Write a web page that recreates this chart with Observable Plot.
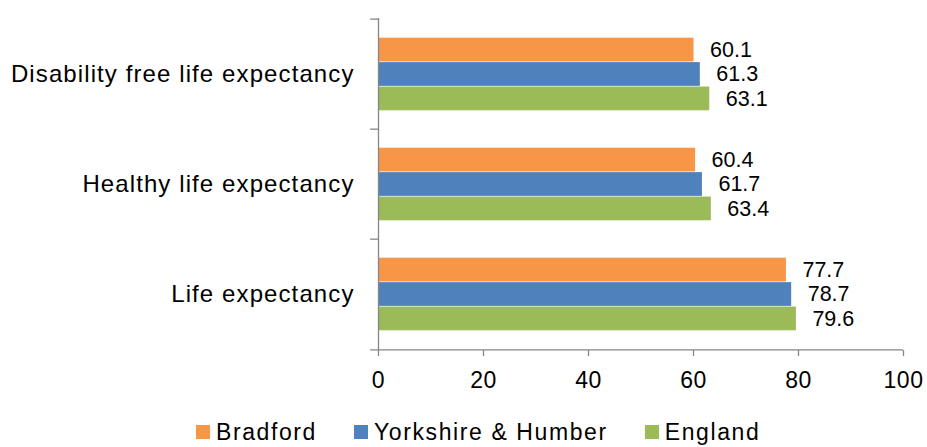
<!DOCTYPE html>
<html>
<head>
<meta charset="utf-8">
<script src="https://cdn.jsdelivr.net/npm/d3@7"></script>
<script src="https://cdn.jsdelivr.net/npm/@observablehq/plot@0.6"></script>
<style>
  html, body { margin: 0; padding: 0; background: #fff; }
  #wrap { position: relative; width: 927px; height: 447px; font-family: "Liberation Sans", Arial, sans-serif; }
  #chart g[aria-label="y-axis tick label"] text { letter-spacing: 1.1px; }
  #chart g[aria-label="x-axis tick label"] text { letter-spacing: 0.5px; }
  #legend { position: absolute; left: 196px; top: 418px; display: flex; align-items: center; font-size: 23px; line-height: 28px; letter-spacing: 1.6px; color: #000; white-space: nowrap; }
  #legend .item { display: flex; align-items: center; margin-right: 37px; }
  #legend .sw { width: 14px; height: 14px; margin-right: 6px; }
</style>
</head>
<body>
<div id="wrap">
  <div id="chart"></div>
  <div id="legend"></div>
</div>
<script>
const categories = ["Disability free life expectancy", "Healthy life expectancy", "Life expectancy"];
const seriesNames = ["Bradford", "Yorkshire & Humber", "England"];
const bradford = [60.1, 60.4, 77.7];
const yorkshire = [61.3, 61.7, 78.7];
const england = [63.1, 63.4, 79.6];
const xTicks = [0, 20, 40, 60, 80, 100];
const colors = ["#F79646", "#4F81BD", "#9BBB59"];

const seriesValues = [bradford, yorkshire, england];
const rows = seriesValues.map(vals => categories.map((c, j) => ({category: c, value: vals[j]})));

const W = 927, H = 419;
const mTop = 18, mBottom = H - 350, mLeft = 378, mRight = 24;
const bw = (H - mTop - mBottom) / categories.length;
const off = bw * 0.169;
const bh = (bw - 2 * off) / 3;
const gray = "#868686";

const marks = [];
rows.forEach((data, i) => {
  marks.push(Plot.barX(data, {
    x: "value", y: "category", fill: colors[i],
    insetTop: off + i * bh,
    insetBottom: bw - off - (i + 1) * bh
  }));
  marks.push(Plot.text(data, {
    x: "value", y: "category", text: d => d.value.toFixed(1),
    textAnchor: "start", dx: 16, dy: off + (i + 0.5) * bh - bw / 2,
    fontSize: 21.5, fill: "#000"
  }));
});
marks.push(Plot.ruleX([0], {stroke: gray, strokeWidth: 1.3}));
marks.push(Plot.ruleY(categories, {y: d => d, x1: -1.5, x2: 0, dy: -bw / 2, stroke: gray, strokeWidth: 1.3}));
marks.push(Plot.ruleY(categories.slice(-1), {y: d => d, x1: -1.5, x2: 100, dy: bw / 2, stroke: gray, strokeWidth: 1.3}));
marks.push(Plot.axisX(xTicks, {tickSize: 6, tickPadding: 15, fontSize: 23, stroke: gray, strokeWidth: 1.3, fill: "#000", label: null}));
marks.push(Plot.axisY({tickSize: 0, tickPadding: 24, fontSize: 24, fill: "#000", label: null}));

const plot = Plot.plot({
  width: W, height: H,
  marginTop: mTop, marginBottom: mBottom, marginLeft: mLeft, marginRight: mRight,
  style: {fontFamily: "'Liberation Sans', Arial, sans-serif", background: "#fff", color: "#000"},
  x: {domain: [0, 100]},
  y: {domain: categories, padding: 0},
  marks
});
document.getElementById("chart").appendChild(plot);

const legend = document.getElementById("legend");
seriesNames.forEach((name, i) => {
  const item = document.createElement("div");
  item.className = "item";
  const sw = document.createElement("span");
  sw.className = "sw";
  sw.style.background = colors[i];
  const t = document.createElement("span");
  t.textContent = name;
  item.appendChild(sw);
  item.appendChild(t);
  legend.appendChild(item);
});
</script>
</body>
</html>
